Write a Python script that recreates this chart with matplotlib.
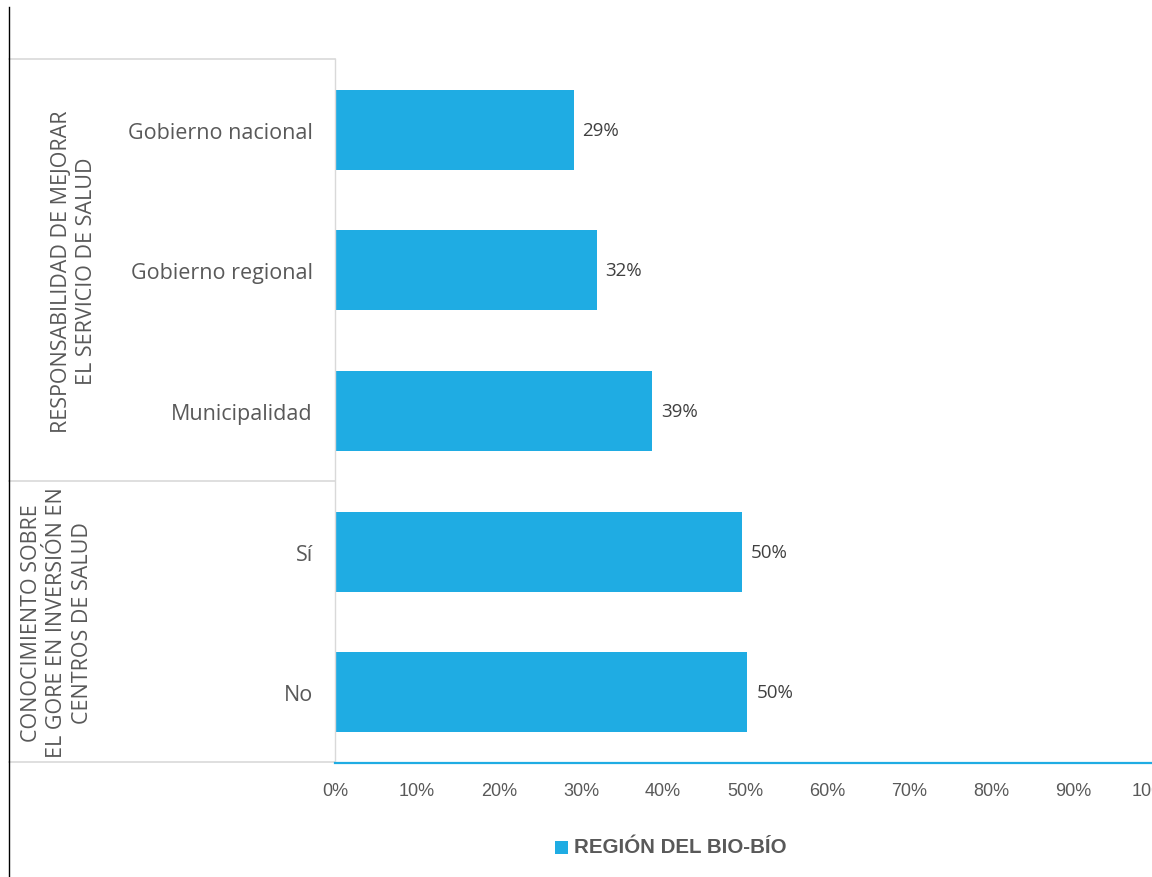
import matplotlib.pyplot as plt
from matplotlib.lines import Line2D
from matplotlib.patches import Rectangle
from matplotlib.transforms import blended_transform_factory

# Encuesta salud - Región del Bío-Bío
categories = ["Gobierno nacional", "Gobierno regional", "Municipalidad", "Sí", "No"]
values = [29.1, 31.9, 38.7, 49.6, 50.3]
groups = ["RESPONSABILIDAD DE MEJORAR\nEL SERVICIO DE SALUD",
          "CONOCIMIENTO SOBRE\nEL GORE EN INVERSIÓN EN\nCENTROS DE SALUD"]
group_sizes = [3, 2]
series_name = "REGIÓN DEL BIO-BÍO"
x_ticks = [0, 10, 20, 30, 40, 50, 60, 70, 80, 90, 100]

BAR = "#1FACE3"
GRID = "#D9D9D9"
TXT = "#595959"
LABEL_FONT = ["Open Sans", "DejaVu Sans"]
TICK_FONT = ["Liberation Sans Narrow", "Liberation Sans", "DejaVu Sans"]

W, H = 1152, 878
fig = plt.figure(figsize=(W / 100, H / 100), dpi=100)
ax = fig.add_axes([335 / W, 1 - 763.5 / H, 820 / W, 703 / H])

ypos = list(range(len(categories)))
ax.barh(ypos, values, height=0.57, color=BAR)
ax.set_ylim(len(categories) - 0.5, -0.5)
ax.set_xlim(0, 100)

for y, v in zip(ypos, values):
    ax.annotate(f"{v:.0f}%", (v, y), xytext=(9, 0), textcoords="offset pixels",
                va="center", ha="left", fontsize=13.5, color="#404040",
                family=LABEL_FONT)

ax.set_yticks(ypos)
ax.set_yticklabels(categories, family=LABEL_FONT, fontsize=15.5, color=TXT)
ax.set_xticks(x_ticks)
ax.set_xticklabels([f"{t}%" for t in x_ticks], family=TICK_FONT, fontsize=13, color=TXT)
ax.tick_params(axis="y", length=0, pad=16)
ax.tick_params(axis="x", length=0, pad=14)

for side in ["top", "right"]:
    ax.spines[side].set_visible(False)
ax.spines["left"].set_color(GRID)
ax.spines["left"].set_linewidth(1)
ax.spines["bottom"].set_color(BAR)
ax.spines["bottom"].set_linewidth(1.6)

# group boxes on the left: x in figure pixels, y in data units
tr = blended_transform_factory(fig.transFigure, ax.transData)
x0 = 9 / W
x1 = 335 / W
start = -0.5
bounds = [start]
for n in group_sizes:
    start += n
    bounds.append(start)
for b in bounds:
    ax.add_line(Line2D([x0, x1], [b, b], transform=tr, color=GRID, lw=1.2, clip_on=False))

group_x = [74 / W, 57 / W]
for name, gx, b0, b1 in zip(groups, group_x, bounds[:-1], bounds[1:]):
    ax.text(gx, (b0 + b1) / 2, name, transform=tr, rotation=90, ha="center", va="center",
            multialignment="center", fontsize=15.5, color=TXT, family=LABEL_FONT,
            linespacing=1.25)

# outer border on the far left
fig.add_artist(Line2D([9 / W, 9 / W], [0, 1 - 8 / H], transform=fig.transFigure,
                      color="black", lw=1))

# legend
fig.add_artist(Rectangle((555 / W, 1 - 855 / H), 13 / W, 13 / H, transform=fig.transFigure,
                         color=BAR, lw=0))
fig.text(574 / W, 1 - 848 / H, series_name, ha="left", va="center", fontsize=14.8,
         fontweight="bold", color=TXT, family=TICK_FONT)

fig.savefig("out.png", dpi=100)
